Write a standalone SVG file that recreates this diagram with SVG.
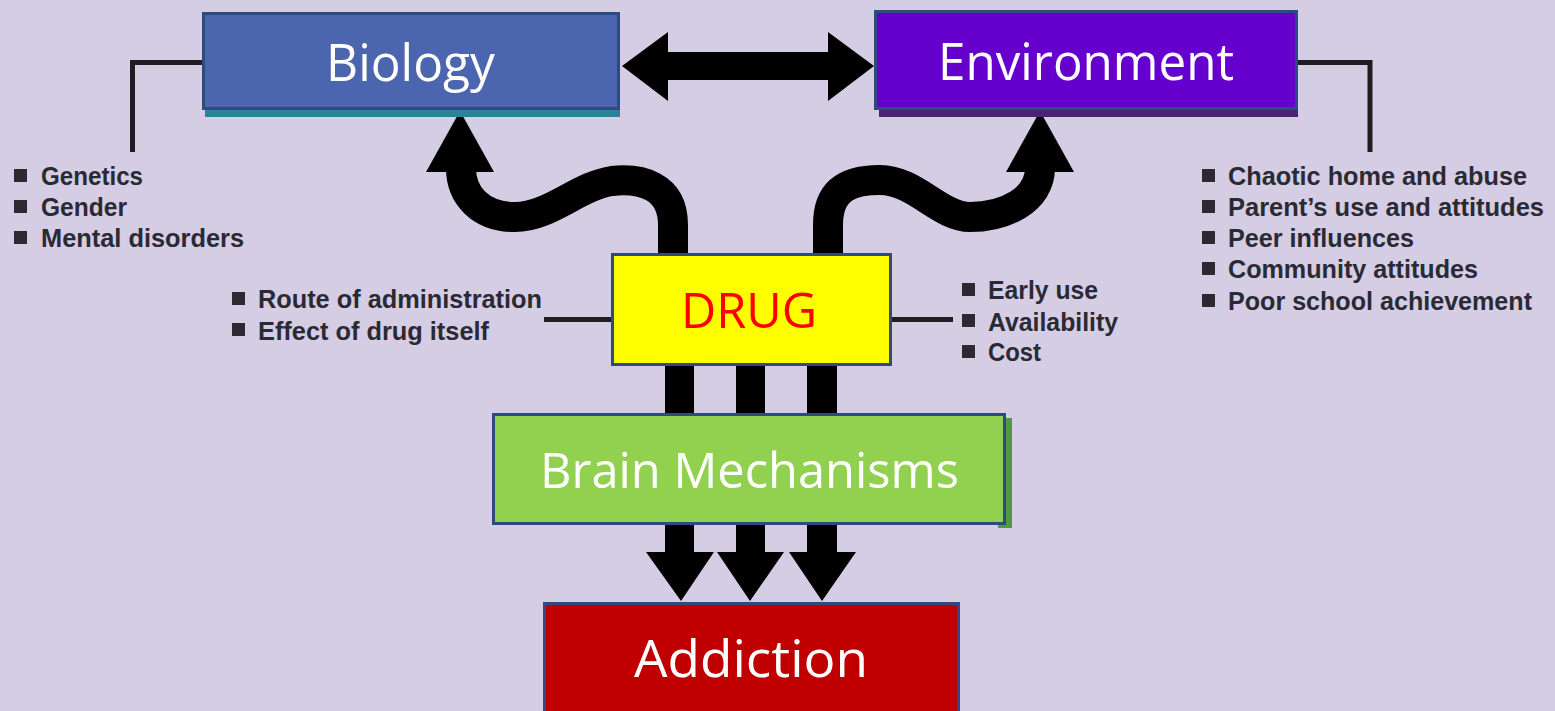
<svg xmlns="http://www.w3.org/2000/svg" width="1555" height="711" viewBox="0 0 1555 711">
<defs>
<style>
.bg{fill:#d4cde4}
.box{stroke:#2f4a7f;stroke-width:3}
.lbl{font-family:"Open Sans","Noto Sans","Liberation Sans",sans-serif;font-size:52px;fill:#ffffff}
.lst{font-family:"Liberation Sans Narrow","Liberation Sans",Arial,sans-serif;font-weight:bold;font-size:25px;fill:#2a2a35}
.bul{fill:#2a2a30}
.ln{fill:none;stroke:#1e1e22;stroke-width:5}
.blk{fill:#000000}
.crv{fill:none;stroke:#000000;stroke-width:30}
</style>
</defs>
<rect class="bg" x="0" y="0" width="1555" height="711"/>

<g id="connectors">
  <polyline class="ln" points="202,62.5 132.5,62.5 132.5,152"/>
  <polyline class="ln" points="1298,62.5 1370,62.5 1370,152"/>
  <line class="ln" x1="544" y1="319.5" x2="611" y2="319.5"/>
  <line class="ln" x1="892" y1="319.5" x2="953" y2="319.5"/>
  <polygon class="blk" points="622,66 668,32 668,52 828,52 828,32 874,66 828,101 828,80 668,80 668,101"/>
  <path class="crv" d="M 673 256 V 225 C 673 185, 640 178, 612 181 C 578 186, 550 217, 515 217 C 480 217, 461 195, 461 168"/>
  <polygon class="blk" points="460,111 426,172 494,172"/>
  <path class="crv" d="M 828 256 V 225 C 828 185, 855 180, 880 180 C 915 180, 940 217, 970 217 C 1005 217, 1040 200, 1040 168"/>
  <polygon class="blk" points="1040,111 1006,172 1074,172"/>
  <rect class="blk" x="665" y="364" width="29" height="191"/>
  <rect class="blk" x="736" y="364" width="29" height="191"/>
  <rect class="blk" x="807" y="364" width="30" height="191"/>
  <polygon class="blk" points="646,552 714,552 681,601"/>
  <polygon class="blk" points="717,552 784,552 750,601"/>
  <polygon class="blk" points="789,552 856,552 822,601"/>
</g>

<g id="biology">
  <rect x="205" y="106" width="415" height="11" fill="#2a8396"/>
  <rect class="box" x="203.5" y="13.5" width="415" height="95" fill="#4b66ae"/>
  <text class="lbl" x="326" y="81" textLength="169" lengthAdjust="spacingAndGlyphs">Biology</text>
</g>
<g id="biology-factors">
  <rect class="bul" x="14" y="169" width="13" height="13"/>
  <rect class="bul" x="14" y="200" width="13" height="13"/>
  <rect class="bul" x="14" y="231" width="13" height="13"/>
  <text class="lst" x="41" y="185" textLength="102" lengthAdjust="spacingAndGlyphs">Genetics</text>
  <text class="lst" x="41" y="216" textLength="86" lengthAdjust="spacingAndGlyphs">Gender</text>
  <text class="lst" x="41" y="247" textLength="203" lengthAdjust="spacingAndGlyphs">Mental disorders</text>
</g>

<g id="environment">
  <rect x="879" y="106" width="419" height="11" fill="#4b2374"/>
  <rect class="box" x="875.5" y="11.5" width="421" height="97" fill="#6600cc"/>
  <text class="lbl" x="938" y="80" textLength="296" lengthAdjust="spacingAndGlyphs">Environment</text>
</g>
<g id="environment-factors">
  <rect class="bul" x="1202" y="169" width="13" height="13"/>
  <rect class="bul" x="1202" y="200" width="13" height="13"/>
  <rect class="bul" x="1202" y="231" width="13" height="13"/>
  <rect class="bul" x="1202" y="262" width="13" height="13"/>
  <rect class="bul" x="1202" y="294" width="13" height="13"/>
  <text class="lst" x="1228" y="185" textLength="299" lengthAdjust="spacingAndGlyphs">Chaotic home and abuse</text>
  <text class="lst" x="1228" y="216" textLength="316" lengthAdjust="spacingAndGlyphs">Parent’s use and attitudes</text>
  <text class="lst" x="1228" y="247" textLength="186" lengthAdjust="spacingAndGlyphs">Peer influences</text>
  <text class="lst" x="1228" y="278" textLength="250" lengthAdjust="spacingAndGlyphs">Community attitudes</text>
  <text class="lst" x="1228" y="310" textLength="304" lengthAdjust="spacingAndGlyphs">Poor school achievement</text>
</g>

<g id="drug">
  <rect class="box" x="612.5" y="254.5" width="278" height="110" fill="#ffff00"/>
  <text class="lbl" x="681" y="328" textLength="136" lengthAdjust="spacingAndGlyphs" style="font-size:50px;fill:#ff0000">DRUG</text>
</g>
<g id="drug-factors-left">
  <rect class="bul" x="232" y="292" width="13" height="13"/>
  <rect class="bul" x="232" y="323" width="13" height="13"/>
  <text class="lst" x="258" y="308" textLength="284" lengthAdjust="spacingAndGlyphs">Route of administration</text>
  <text class="lst" x="258" y="340" textLength="231" lengthAdjust="spacingAndGlyphs">Effect of drug itself</text>
</g>
<g id="drug-factors-right">
  <rect class="bul" x="962" y="283" width="13" height="13"/>
  <rect class="bul" x="962" y="314" width="13" height="13"/>
  <rect class="bul" x="962" y="345" width="13" height="13"/>
  <text class="lst" x="988" y="299" textLength="110" lengthAdjust="spacingAndGlyphs">Early use</text>
  <text class="lst" x="988" y="331" textLength="130" lengthAdjust="spacingAndGlyphs">Availability</text>
  <text class="lst" x="988" y="361" textLength="53" lengthAdjust="spacingAndGlyphs">Cost</text>
</g>

<g id="brain-mechanisms">
  <rect x="998" y="418" width="14" height="110" fill="#4f9a3c"/>
  <rect class="box" x="493.5" y="414.5" width="511" height="109" fill="#92d050"/>
  <text class="lbl" x="540" y="488" textLength="419" lengthAdjust="spacingAndGlyphs" style="font-size:50px">Brain Mechanisms</text>
</g>

<g id="addiction">
  <rect class="box" x="544.5" y="603.5" width="414" height="120" fill="#c00000"/>
  <text class="lbl" x="634" y="677" textLength="234" lengthAdjust="spacingAndGlyphs">Addiction</text>
</g>
</svg>
